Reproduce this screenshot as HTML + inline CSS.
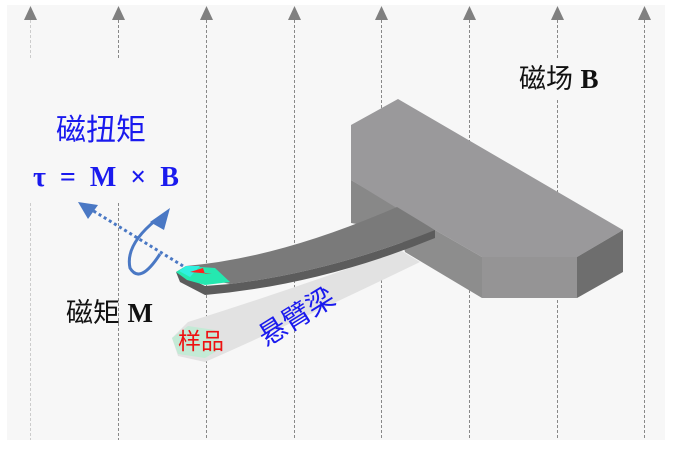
<!DOCTYPE html>
<html><head><meta charset="utf-8"><style>
html,body{margin:0;padding:0;background:#fff;}
svg{display:block}
</style></head><body>
<svg width="683" height="452" viewBox="0 0 683 452" xmlns="http://www.w3.org/2000/svg">
<rect x="7" y="5" width="658" height="435" fill="#f7f7f7"/>
<g stroke="#888" stroke-width="1" stroke-dasharray="3,2">
<line x1="30.5" y1="20" x2="30.5" y2="60" stroke="#ccc"/>
<line x1="30.5" y1="203" x2="30.5" y2="440" stroke="#ccc"/>
<line x1="118.5" y1="20" x2="118.5" y2="60"/>
<line x1="118.5" y1="203" x2="118.5" y2="440"/>
<line x1="206.5" y1="20" x2="206.5" y2="440"/>
<line x1="294.5" y1="20" x2="294.5" y2="440"/>
<line x1="381.5" y1="20" x2="381.5" y2="440"/>
<line x1="469.5" y1="20" x2="469.5" y2="440"/>
<line x1="557.5" y1="20" x2="557.5" y2="60"/>
<line x1="557.5" y1="100" x2="557.5" y2="440"/>
<line x1="644.5" y1="20" x2="644.5" y2="440"/>
</g>
<g fill="#808080">
<polygon points="30.5,6 24,20 37,20"/><polygon points="118.5,6 112,20 125,20"/>
<polygon points="206.5,6 200,20 213,20"/><polygon points="294.5,6 288,20 301,20"/>
<polygon points="381.5,6 375,20 388,20"/><polygon points="469.5,6 463,20 476,20"/>
<polygon points="557.5,6 551,20 564,20"/><polygon points="644.5,6 638,20 651,20"/>
</g>
<!-- shadow beam -->
<path d="M172,338 L178,356 L205,362 Q300,320 420,262 L400,250 Q290,290 188,322 Z" fill="#e2e2e2"/>
<polygon points="172,338 188,326 215,330 222,348 205,358 178,354" fill="#c4ead6"/>
<!-- block -->
<polygon points="351,180 397,207 403,232 351,223" fill="#888"/>
<polygon points="351,125 398,99 623,230 577,257 482,257 435,230 400,210 351,180" fill="#9a999b"/>
<polygon points="400,232 435,230 482,257 482,298 405,252" fill="#8d8d8d"/>
<polygon points="482,257 577,257 577,298 482,298" fill="#959495"/>
<polygon points="577,257 623,230 623,272 577,298" fill="#6e6e6e"/>
<!-- beam -->
<path d="M176,272 L186,266 Q280,258 397,207 L435,230 Q330,272 230,284 Z" fill="#7a7a7a"/>
<path d="M176,272 L180,282 L205,295 Q320,285 435,238 L435,230 Q330,272 230,284 L205,286 Z" fill="#5c5c5c"/>
<!-- sample -->
<polygon points="176,272 186,266 215,268 230,282 205,285 187,280" fill="#25e8b0"/>
<polygon points="186,266 200,266 190,277 179,271" fill="#30f0e0"/>
<polygon points="190,272 203,268 205,274 212,274" fill="#ff2020"/>
<!-- arrows -->
<line x1="183" y1="266" x2="92" y2="210" stroke="#4a78c4" stroke-width="3" stroke-dasharray="3,3"/>
<polygon points="78,202 98,205 88,219" fill="#4a78c4"/>
<path d="M160,254 Q140,285 130,268 Q125,245 156,220" fill="none" stroke="#4a78c4" stroke-width="3"/>
<polygon points="170,208 164,230 150,222" fill="#4a78c4"/>
<!-- texts -->
<g font-family="Liberation Sans, Noto Sans CJK SC, sans-serif">
<text x="56" y="140" font-size="30" fill="#1a1aee">磁扭矩</text>
<text x="33" y="186" font-size="28" fill="#1a1aee" font-weight="bold" font-family="Liberation Serif, serif" xml:space="preserve">τ  =  M  ×  B</text>
<text x="66" y="322" font-size="27" fill="#111">磁矩 <tspan font-family="Liberation Serif, serif" font-weight="bold">M</tspan></text>
<text x="178" y="349" font-size="23" fill="#ee1111">样品</text>
<text x="0" y="0" font-size="28" fill="#1a1aee" transform="translate(266,347) rotate(-32)">悬臂梁</text>
<text x="519" y="88" font-size="27" fill="#111">磁场 <tspan font-family="Liberation Serif, serif" font-weight="bold">B</tspan></text>
</g>
</svg>
</body></html>
